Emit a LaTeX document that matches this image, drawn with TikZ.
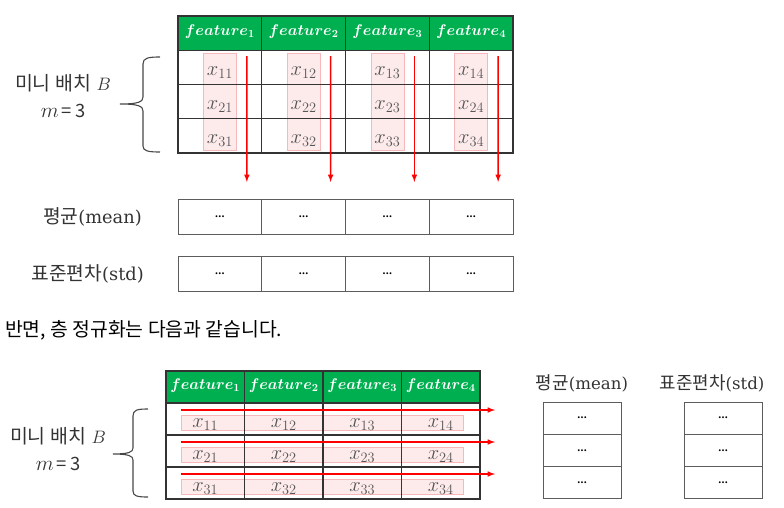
\RequirePackage{fix-cm}
\documentclass[tikz,border=0pt]{standalone}
\usepackage{fontspec}
\usepackage{amsmath}
\setmainfont{DejaVu Serif}
\newfontfamily\kr[Scale=1.08]{Noto Sans CJK KR}
\usetikzlibrary{matrix,positioning,backgrounds}

\definecolor{hdgreen}{HTML}{00B050}
\definecolor{pinkfill}{HTML}{FDEAEA}
\definecolor{pinkline}{HTML}{F6B8B8}
\definecolor{cellgray}{HTML}{555555}
\definecolor{gridline}{HTML}{333333}
\newcommand{\feat}[1]{$\boldsymbol{feature_{#1}}$}
\newcommand{\batchsize}{{\fontsize{21}{27}\selectfont$m$}\,{\kr\fontsize{17}{27}\selectfont =\,3}}

\begin{document}
\begin{tikzpicture}[x=1pt,y=-1pt,
		tbl/.style={matrix of nodes,column sep=-1.2pt,row sep=-1.2pt,
			nodes={draw=gridline,line width=1.2pt,outer sep=0pt,inner sep=0pt,text=cellgray,
				font=\fontsize{20.5}{24}\selectfont,text height=18pt,text depth=2pt}},
		hdrow/.style={nodes={fill=hdgreen,text=white,font=\fontsize{15.5}{18}\selectfont,text height=7pt,text depth=2pt}},
		stat/.style={matrix of nodes,column sep=-1pt,row sep=-1pt,
			nodes={draw=gridline!80,line width=1pt,outer sep=0pt,inner sep=0pt,font=\fontsize{10}{12}\selectfont\bfseries}},
		pinkbox/.style={fill=pinkfill,draw=pinkline,line width=0.6pt},
		redarrow/.style={-latex,red,line width=1.5pt},
		brc/.style={draw=gridline!90,line width=1.1pt},
		lbl/.style={font=\fontsize{17.8}{27}\selectfont,text=black!80,align=center,inner sep=0pt}]
	\useasboundingbox (0,0) rectangle (784,508);

	% batch normalization
	\matrix (top) at (345.5,84.5) [tbl,row 1/.style={hdrow},
		nodes={minimum width=83.75pt,minimum height=34.25pt}] {
		\feat{1} & \feat{2} & \feat{3} & \feat{4}\\
		$x_{11}$ & $x_{12}$ & $x_{13}$ & $x_{14}$\\
		$x_{21}$ & $x_{22}$ & $x_{23}$ & $x_{24}$\\
		$x_{31}$ & $x_{32}$ & $x_{33}$ & $x_{34}$\\
	};
	\matrix (mean) at (345.5,216.5) [stat,nodes={minimum width=83.75pt,minimum height=35pt}] {
		\ldots & \ldots & \ldots & \ldots\\
	};
	\matrix (std) at (345.5,273.5) [stat,nodes={minimum width=83.75pt,minimum height=35pt}] {
		\ldots & \ldots & \ldots & \ldots\\
	};
	\begin{scope}[on background layer]
		\foreach \c in {1,...,4}
			\draw [pinkbox] ([xshift=-16.5pt,yshift=-3pt]top-2-\c.north) rectangle ([xshift=16.5pt,yshift=3pt]top-4-\c.south);
	\end{scope}
	\foreach \c in {1,...,4}
		\draw [redarrow] ([xshift=27pt,yshift=-6pt]top-2-\c.north) -- ([xshift=27pt,yshift=17pt]mean-1-\c.north);

	\node (meanlbl) [lbl,left=32pt of mean.west] {{\kr 평균}(mean)};
	\node (stdlbl) [lbl,left=30pt of std.west] {{\kr 표준편차}(std)};

	% brace for the mini batch
	\draw [brc] (160,57) .. controls (148,57) and (143,58) .. (143,64) -- (143,97)
		.. controls (143,102) and (138,104) .. (120,104)
		.. controls (138,104) and (143,106) .. (143,111) -- (143,146)
		.. controls (143,151) and (148,152) .. (160,152);
	\node (batchtop) [lbl,font=\fontsize{18}{27}\selectfont] at (63,96) {{\kr 미니 배치} $B$\\\batchsize};

	\node (sentence) [anchor=west,inner sep=0pt,font=\kr\fontsize{17.9}{22}\selectfont] at (5,330) {반면, 층 정규화는 다음과 같습니다.};

	% layer normalization
	\matrix (bot) at (323,435) [tbl,row 1/.style={hdrow},
		nodes={minimum width=78.5pt,minimum height=32pt}] {
		\feat{1} & \feat{2} & \feat{3} & \feat{4}\\
		$x_{11}$ & $x_{12}$ & $x_{13}$ & $x_{14}$\\
		$x_{21}$ & $x_{22}$ & $x_{23}$ & $x_{24}$\\
		$x_{31}$ & $x_{32}$ & $x_{33}$ & $x_{34}$\\
	};
	\begin{scope}[on background layer]
		\foreach \r in {2,3,4}
			\draw [pinkbox] ([xshift=15pt,yshift=-12pt]bot-\r-1.north west) rectangle ([xshift=-17pt,yshift=5pt]bot-\r-4.south east);
	\end{scope}
	\foreach \r in {2,3,4}
		\draw [redarrow] ([xshift=15pt,yshift=-7pt]bot-\r-1.north west) -- ([xshift=15pt,yshift=-7pt]bot-\r-4.north east);

	\matrix (bmean) at (582,450.5) [stat,nodes={minimum width=78pt,minimum height=32.3pt}] {
		\ldots\\ \ldots\\ \ldots\\
	};
	\matrix (bstd) at (723,450.5) [stat,nodes={minimum width=78pt,minimum height=32.3pt}] {
		\ldots\\ \ldots\\ \ldots\\
	};
	\node (bmeanlbl) [lbl,font=\fontsize{16.6}{20}\selectfont] at (582,383) {{\kr 평균}(mean)};
	\node (bstdlbl) [lbl,font=\fontsize{16.6}{20}\selectfont] at (712,383) {{\kr 표준편차}(std)};

	\draw [brc] (148,409) .. controls (137,409) and (133,410) .. (133,416) -- (133,448)
		.. controls (133,452) and (129,454) .. (113,454)
		.. controls (129,454) and (133,456) .. (133,460) -- (133,491)
		.. controls (133,496) and (137,497) .. (148,497);
	\node (batchbot) [lbl,font=\fontsize{18}{27}\selectfont] at (58,449) {{\kr 미니 배치} $B$\\\batchsize};
\end{tikzpicture}
\end{document}
